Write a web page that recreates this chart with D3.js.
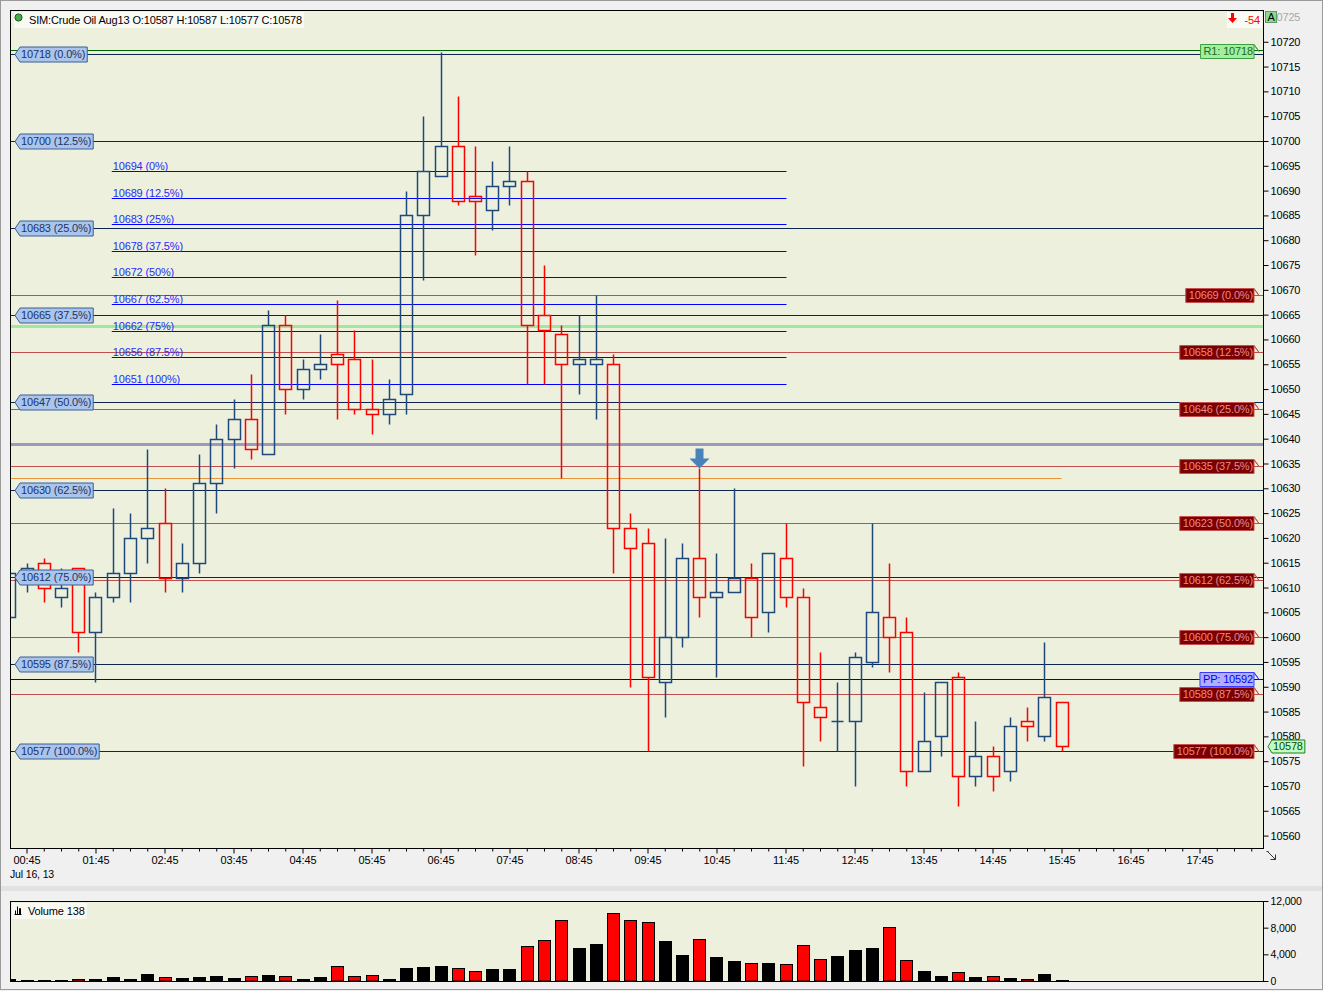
<!DOCTYPE html>
<html><head><meta charset="utf-8">
<script src="https://cdn.jsdelivr.net/npm/d3@7"></script>
<style>
html,body{margin:0;padding:0;background:#f0f0f0;overflow:hidden;}
svg{display:block;font-family:"Liberation Sans",Arial,sans-serif;}
svg text{letter-spacing:-0.15px;}
</style></head><body>
<svg id="c" width="1323" height="991"></svg>
<script>
// ---------- DATA ----------
const times = ["00:30","00:45","01:00","01:15","01:30","01:45","02:00","02:15","02:30","02:45",
 "03:00","03:15","03:30","03:45","04:00","04:15","04:30","04:45","05:00","05:15",
 "05:30","05:45","06:00","06:15","06:30","06:45","07:00","07:15","07:30","07:45",
 "08:00","08:15","08:30","08:45","09:00","09:15","09:30","09:45","10:00","10:15",
 "10:30","10:45","11:00","11:15","11:30","11:45","12:00","12:15","12:30","12:45",
 "13:00","13:15","13:30","13:45","14:00","14:15","14:30","14:45","15:00","15:15",
 "15:30","15:45"];
const open  = [10604,10611,10615,10608,10614,10601,10608,10613,10620,10623,
 10612,10615,10631,10640,10644,10637,10663,10650,10654,10657,
 10656,10646,10645,10649,10685,10693,10699,10689,10686,10691,
 10692,10665,10661,10655,10655,10655,10622,10619,10591,10600,
 10616,10608,10609,10612,10605,10616,10608,10586,10583,10583,
 10595,10604,10601,10573,10580,10592,10572,10576,10573,10583,
 10580,10587];
const high  = [10614,10615,10616,10614,10614,10609,10626,10625,10638,10630,
 10619,10637,10643,10648,10653,10666,10665,10656,10661,10668,
 10662,10656,10652,10690,10705,10718,10709,10699,10696,10699,
 10694,10675,10663,10665,10669,10657,10625,10622,10620,10619,
 10634,10617,10630,10615,10617,10623,10610,10597,10591,10597,
 10623,10615,10604,10589,10591,10593,10583,10578,10584,10586,
 10599,10587];
const low   = [10602,10609,10607,10606,10597,10591,10607,10607,10615,10609,
 10609,10613,10625,10634,10636,10637,10645,10648,10652,10644,
 10645,10641,10643,10645,10672,10693,10687,10677,10682,10687,
 10651,10651,10632,10649,10644,10613,10590,10577,10584,10598,
 10604,10592,10609,10600,10601,10606,10574,10579,10577,10570,
 10594,10593,10570,10573,10576,10566,10570,10569,10571,10579,
 10579,10577];
const close = [10613,10614,10610,10610,10601,10608,10613,10620,10622,10612,
 10615,10631,10640,10644,10638,10663,10650,10654,10655,10655,
 10646,10645,10648,10685,10694,10699,10688,10688,10691,10692,
 10663,10662,10655,10656,10656,10622,10618,10592,10600,10616,
 10608,10609,10612,10604,10617,10608,10587,10584,10583,10596,
 10605,10600,10573,10579,10591,10572,10576,10572,10582,10582,
 10588,10578];
const volume = [300,150,150,150,250,300,600,300,1050,600,
 450,600,750,450,750,900,750,300,600,2250,
 750,900,300,1950,2100,2250,1950,1500,1800,1800,
 5200,6100,9100,4950,5550,10150,9150,8800,6000,3900,
 6250,3600,3000,2650,2700,2500,5350,3250,3750,4650,
 4950,8050,3100,1500,800,1300,600,750,450,250,
 1050,138];
const volColor = ["k","k","k","k","r","k","k","k","k","r",
 "k","k","k","k","r","k","r","k","k","r",
 "r","r","k","k","k","k","r","r","k","k",
 "r","r","r","k","k","r","r","r","k","k",
 "r","k","k","r","k","r","r","r","k","k",
 "k","r","r","k","k","r","k","r","k","r",
 "k","k"];
const timeLabels = ["00:45","01:45","02:45","03:45","04:45","05:45","06:45","07:45","08:45",
 "09:45","10:45","11:45","12:45","13:45","14:45","15:45","16:45","17:45"];
const priceTicks = [10560,10565,10570,10575,10580,10585,10590,10595,10600,10605,10610,10615,
 10620,10625,10630,10635,10640,10645,10650,10655,10660,10665,10670,10675,10680,10685,10690,
 10695,10700,10705,10710,10715,10720,10725];
const volTicks = [0,4000,8000,12000];

const leftFibLevels = [10717.6,10700.0,10682.5,10664.9,10647.3,10629.7,10612.2,10594.6,10577.0];
const leftFibLabels = ["10718 (0.0%)","10700 (12.5%)","10683 (25.0%)","10665 (37.5%)","10647 (50.0%)",
 "10630 (62.5%)","10612 (75.0%)","10595 (87.5%)","10577 (100.0%)"];
const midFibLevels = [10694,10688.6,10683.3,10677.9,10672.5,10667.1,10661.8,10656.4,10651];
const midFibLabels = ["10694 (0%)","10689 (12.5%)","10683 (25%)","10678 (37.5%)","10672 (50%)",
 "10667 (62.5%)","10662 (75%)","10656 (87.5%)","10651 (100%)"];
const midFibSpan = [6, 45];
const rightFibLevels = [10669,10657.5,10646,10634.5,10623,10611.5,10600,10588.5,10577];
const rightFibLabels = ["10669 (0.0%)","10658 (12.5%)","10646 (25.0%)","10635 (37.5%)","10623 (50.0%)",
 "10612 (62.5%)","10600 (75.0%)","10589 (87.5%)","10577 (100.0%)"];
const pivotR1 = 10718.2, pivotR1Label = "R1: 10718";
const pivotPP = 10591.5, pivotPPLabel = "PP: 10592";
const greenLevel = 10662.8, purpleLevel = 10638.9;
const priorClose = 10632;
const signalBars = [40];
const instrument = "SIM:Crude Oil Aug13";
const dateLabel = "Jul 16, 13";

// ---------- SETUP ----------
const svg = d3.select('#c');
const W = 1323, H = 991;
const P = {l:10, r:1263, t:10, b:848};
const V = {t:901, b:981};
const last = close.length - 1;
const x = d3.scaleLinear().domain([0, 61]).range([9.25, 1061.5]);
const y = d3.scaleLinear().domain([10557.3, 10726.4]).range([849, 10]);
const yv = d3.scaleLinear().domain([0, 12000]).range([V.b, V.t]);
const FONT = 11;
const FF = '"Liberation Sans",Arial,sans-serif';

svg.append('rect').attr('x',0.5).attr('y',0.5).attr('width',W-1).attr('height',H-2)
  .attr('fill','#f0f0f0').attr('stroke','#9a9a9a');
svg.append('rect').attr('x',1).attr('y',886).attr('width',W-2).attr('height',5).attr('fill','#e2e2e2');

const defs = svg.append('defs');
defs.append('clipPath').attr('id','pc').append('rect').attr('x',P.l).attr('y',P.t).attr('width',P.r-P.l).attr('height',P.b-P.t);
defs.append('clipPath').attr('id','vc').append('rect').attr('x',P.l).attr('y',V.t).attr('width',P.r-P.l).attr('height',V.b-V.t);

svg.append('rect').attr('x',P.l).attr('y',P.t).attr('width',P.r-P.l).attr('height',P.b-P.t).attr('fill','#ecf0dd');
svg.append('rect').attr('x',P.l).attr('y',V.t).attr('width',P.r-P.l).attr('height',V.b-V.t).attr('fill','#ecf0dd');

// ---------- LINES ----------
const gl = svg.append('g').attr('clip-path','url(#pc)');
function hline(v, color, w, x1, x2, op) {
  const yy = Math.round(y(v)) + 0.5;
  gl.append('line').attr('x1',x1).attr('x2',x2).attr('y1',yy).attr('y2',yy)
    .attr('stroke',color).attr('stroke-width',w).attr('stroke-opacity',op||1);
}
hline(greenLevel,'#98e698',3,P.l,P.r,0.9);
hline(purpleLevel,'#9a8cb8',3,P.l,P.r,0.9);
hline(priorClose,'#e8923a',1,P.l,x(last));
rightFibLevels.forEach(v => hline(v,'#c0504d',1,P.l,P.r));
leftFibLevels.forEach(v => hline(v,'#0c2452',1,P.l,P.r));
midFibLevels.forEach(v => hline(v,'#0000ff',1,x(midFibSpan[0])-1,x(midFibSpan[1])+1));
hline(pivotPP,'#0000cc',1,P.l,P.r);
{
  const yy = Math.round(y(pivotR1)) - 0.5;
  gl.append('line').attr('x1',P.l).attr('x2',P.r).attr('y1',yy).attr('y2',yy).attr('stroke','#006400').attr('stroke-width',1);
}

// mid fib texts
midFibLevels.forEach((v,i) => {
  gl.append('text').attr('x',x(midFibSpan[0])).attr('y',Math.round(y(v))-1.5)
    .attr('font-size',FONT).attr('fill','#2a2aff').text(midFibLabels[i]);
});

// ---------- CANDLES ----------
const gc = svg.append('g').attr('clip-path','url(#pc)');
times.forEach((t,i) => {
  const up = close[i] >= open[i];
  const col = up ? '#1f497d' : '#ff0000';
  const cx = Math.round(x(i)) + 0.5;
  const top = Math.round(y(Math.max(open[i],close[i]))) + 0.5;
  const bot = Math.round(y(Math.min(open[i],close[i]))) + 0.5;
  const yh = Math.round(y(high[i])) + 0.5, yl = Math.round(y(low[i])) + 0.5;
  if (yh < top) gc.append('line').attr('x1',cx).attr('x2',cx).attr('y1',yh).attr('y2',top).attr('stroke',col).attr('stroke-width',1.5);
  if (yl > bot) gc.append('line').attr('x1',cx).attr('x2',cx).attr('y1',bot).attr('y2',yl).attr('stroke',col).attr('stroke-width',1.5);
  if (bot - top < 0.5) {
    gc.append('line').attr('x1',cx-6).attr('x2',cx+6).attr('y1',top).attr('y2',top).attr('stroke',col).attr('stroke-width',1.5);
  } else {
    gc.append('rect').attr('x',cx-6).attr('y',top).attr('width',12).attr('height',bot-top)
      .attr('fill','none').attr('stroke',col).attr('stroke-width',1.5);
  }
});
// signal arrows
signalBars.forEach(i => {
  const cx = Math.round(x(i)) + 0.5, yh = y(high[i]);
  gc.append('path').attr('d',`M${cx-4},${yh-20}h8v10h6l-10,10l-10,-10h6z`).attr('fill','#4a82bb');
});

// ---------- VOLUME ----------
const gv = svg.append('g').attr('clip-path','url(#vc)');
volume.forEach((v,i) => {
  const cx = Math.round(x(i));
  const yt = Math.round(yv(v));
  gv.append('rect').attr('x',cx-5.5).attr('y',yt+0.5).attr('width',12).attr('height',Math.max(V.b-yt-0.5,1))
    .attr('fill',volColor[i]==='r' ? '#ff0000' : '#000000').attr('stroke','#000').attr('stroke-width',1);
});

// ---------- TAGS ----------
function leftTag(v, txt) {
  const yy = Math.round(y(v)) + 0.5;
  const g = svg.append('g');
  const t = g.append('text').attr('x',21).attr('y',yy).attr('dy','0.35em').attr('font-size',FONT).attr('fill','#1c3462').text(txt);
  const w = t.node().getComputedTextLength() + 3;
  g.insert('path','text').attr('d',`M15,${yy}L20,${yy-7.5}H${20+w}V${yy+7.5}H20Z`).attr('fill','#a9c5ee').attr('stroke','#3d5e92').attr('stroke-width',1);
}
function rightTag(v, txt, fill, stroke, tcol) {
  const yy = Math.round(y(v)) + 0.5;
  const g = svg.append('g');
  const t = g.append('text').attr('x',1253).attr('y',yy).attr('dy','0.35em').attr('text-anchor','end').attr('font-size',FONT).attr('fill',tcol).text(txt);
  const w = t.node().getComputedTextLength() + 4;
  g.insert('path','text').attr('d',`M1259,${yy}L1254,${yy-7}V${yy+7}H${1254-w}V${yy-7}H1254Z`)
    .attr('fill',fill).attr('stroke',stroke).attr('stroke-width',1);
}
leftFibLevels.forEach((v,i) => leftTag(v, leftFibLabels[i]));
rightFibLevels.forEach((v,i) => rightTag(v, rightFibLabels[i], '#7c0000', '#c85050', '#e98a8a'));
rightTag(pivotPP, pivotPPLabel, '#aeb0ff', '#3a3aff', '#0000f0');
rightTag(pivotR1, pivotR1Label, '#9ff09f', '#3f9f3f', '#1e6a1e');

// ---------- BORDERS ----------
svg.append('rect').attr('x',P.l+0.5).attr('y',P.t+0.5).attr('width',P.r-P.l).attr('height',P.b-P.t).attr('fill','none').attr('stroke','#000');
svg.append('rect').attr('x',P.l+0.5).attr('y',V.t+0.5).attr('width',P.r-P.l).attr('height',V.b-V.t).attr('fill','none').attr('stroke','#000');

// ---------- AXES ----------
const ya = svg.append('g').attr('transform',`translate(${P.r+0.5},0)`)
  .call(d3.axisRight(y).tickValues(priceTicks).tickSize(5).tickPadding(2).tickFormat(d3.format('d')));
ya.select('.domain').remove();
ya.selectAll('text').attr('font-size',FONT).attr('font-family',FF)
  .attr('fill', d => d > 10722 ? '#a8a8a8' : '#000');
ya.selectAll('line').attr('stroke','#000');
ya.selectAll('.tick').filter(d => d > 10722).select('line').remove();

const va = svg.append('g').attr('transform',`translate(${P.r+0.5},0)`)
  .call(d3.axisRight(yv).tickValues(volTicks).tickSize(5).tickPadding(2).tickFormat(d3.format(',')));
va.select('.domain').remove();
va.selectAll('text').attr('font-size',10.5).attr('font-family',FF).attr('fill','#000');

const allIdx = d3.range(0, 73).filter(i => x(i) >= P.l && x(i) <= P.r);
const minorIdx = allIdx.filter(i => (i-1) % 4 !== 0);
const majorIdx = allIdx.filter(i => (i-1) % 4 === 0);
const xa1 = svg.append('g').attr('transform',`translate(0,${P.b+0.5})`)
  .call(d3.axisBottom(x).tickValues(minorIdx).tickSize(3).tickFormat(''));
xa1.select('.domain').remove();
const xa2 = svg.append('g').attr('transform',`translate(0,${P.b+0.5})`)
  .call(d3.axisBottom(x).tickValues(majorIdx).tickSize(5).tickPadding(3).tickFormat(i => timeLabels[(i-1)/4]));
xa2.select('.domain').remove();
xa2.selectAll('text').attr('font-size',FONT).attr('font-family',FF).attr('fill','#000');
svg.selectAll('.tick line').attr('stroke','#000');
svg.append('text').attr('x',10).attr('y',878).attr('font-size',10.5).attr('fill','#000').text(dateLabel);

// current price tag on axis
{
  const yy = Math.round(y(close[last])) + 0.5;
  const g = svg.append('g');
  const t = g.append('text').attr('x',1273).attr('y',yy).attr('dy','0.35em').attr('font-size',FONT).attr('fill','#0a4a0a').text(close[last]);
  const w = t.node().getComputedTextLength() + 3;
  g.insert('path','text').attr('d',`M1268,${yy}L1272,${yy-6.5}H${1272+w}V${yy+6.5}H1272Z`)
    .attr('fill','#c2fcc2').attr('stroke','#1f7f1f');
}

// ---------- HEADERS ----------
{
  const g = svg.append('g');
  const t = g.append('text').attr('x',29).attr('y',20).attr('dy','0.35em').attr('font-size',FONT).attr('fill','#000')
    .text(`${instrument} O:${open[last]} H:${high[last]} L:${low[last]} C:${close[last]}`);
  const w = t.node().getComputedTextLength();
  g.insert('rect','text').attr('x',14).attr('y',12).attr('width',29+w-14+2).attr('height',16).attr('fill','#fafaf5');
  g.append('circle').attr('cx',18.5).attr('cy',17.5).attr('r',3.6).attr('fill','#46a846').attr('stroke','#1d5a1d');
}
{
  const g = svg.append('g');
  const t = g.append('text').attr('x',28).attr('y',911).attr('dy','0.35em').attr('font-size',FONT).attr('fill','#000').text(`Volume ${volume[last]}`);
  const w = t.node().getComputedTextLength();
  g.insert('rect','text').attr('x',12).attr('y',903).attr('width',28+w-12+2).attr('height',16).attr('fill','#fafaf5');
  g.append('path').attr('d','M14.5,914.5H21.5M15.5,914.5V910.5M17.5,914.5V906.5M19.5,914.5V908.5H20.5V914.5').attr('stroke','#000').attr('fill','none');
}
{
  const net = close[last] - priorClose;
  const g = svg.append('g');
  g.append('rect').attr('x',1227).attr('y',12).attr('width',35).attr('height',16).attr('fill','#fbfbf6');
  g.append('path').attr('d','M1231,13h3v5h3l-4.5,5l-4.5,-5h3z').attr('fill','#ff0000');
  g.append('text').attr('x',1260).attr('y',20).attr('dy','0.35em').attr('text-anchor','end').attr('font-size',FONT).attr('fill','#ff0000').text(net);
  g.append('rect').attr('x',1265.5).attr('y',11.5).attr('width',11).attr('height',11).attr('fill','#8fd88f').attr('stroke','#5a9a5a');
  g.append('text').attr('x',1271).attr('y',17).attr('dy','0.35em').attr('text-anchor','middle').attr('font-size',FONT).attr('fill','#000').text('A');
}
// corner resize icon
svg.append('path').attr('d','M1267.5,851.5L1275.5,859.5M1275.5,854.5V859.5H1270.5M1266.5,851.5H1268.5').attr('stroke','#333').attr('fill','none');
</script>
</body></html>
